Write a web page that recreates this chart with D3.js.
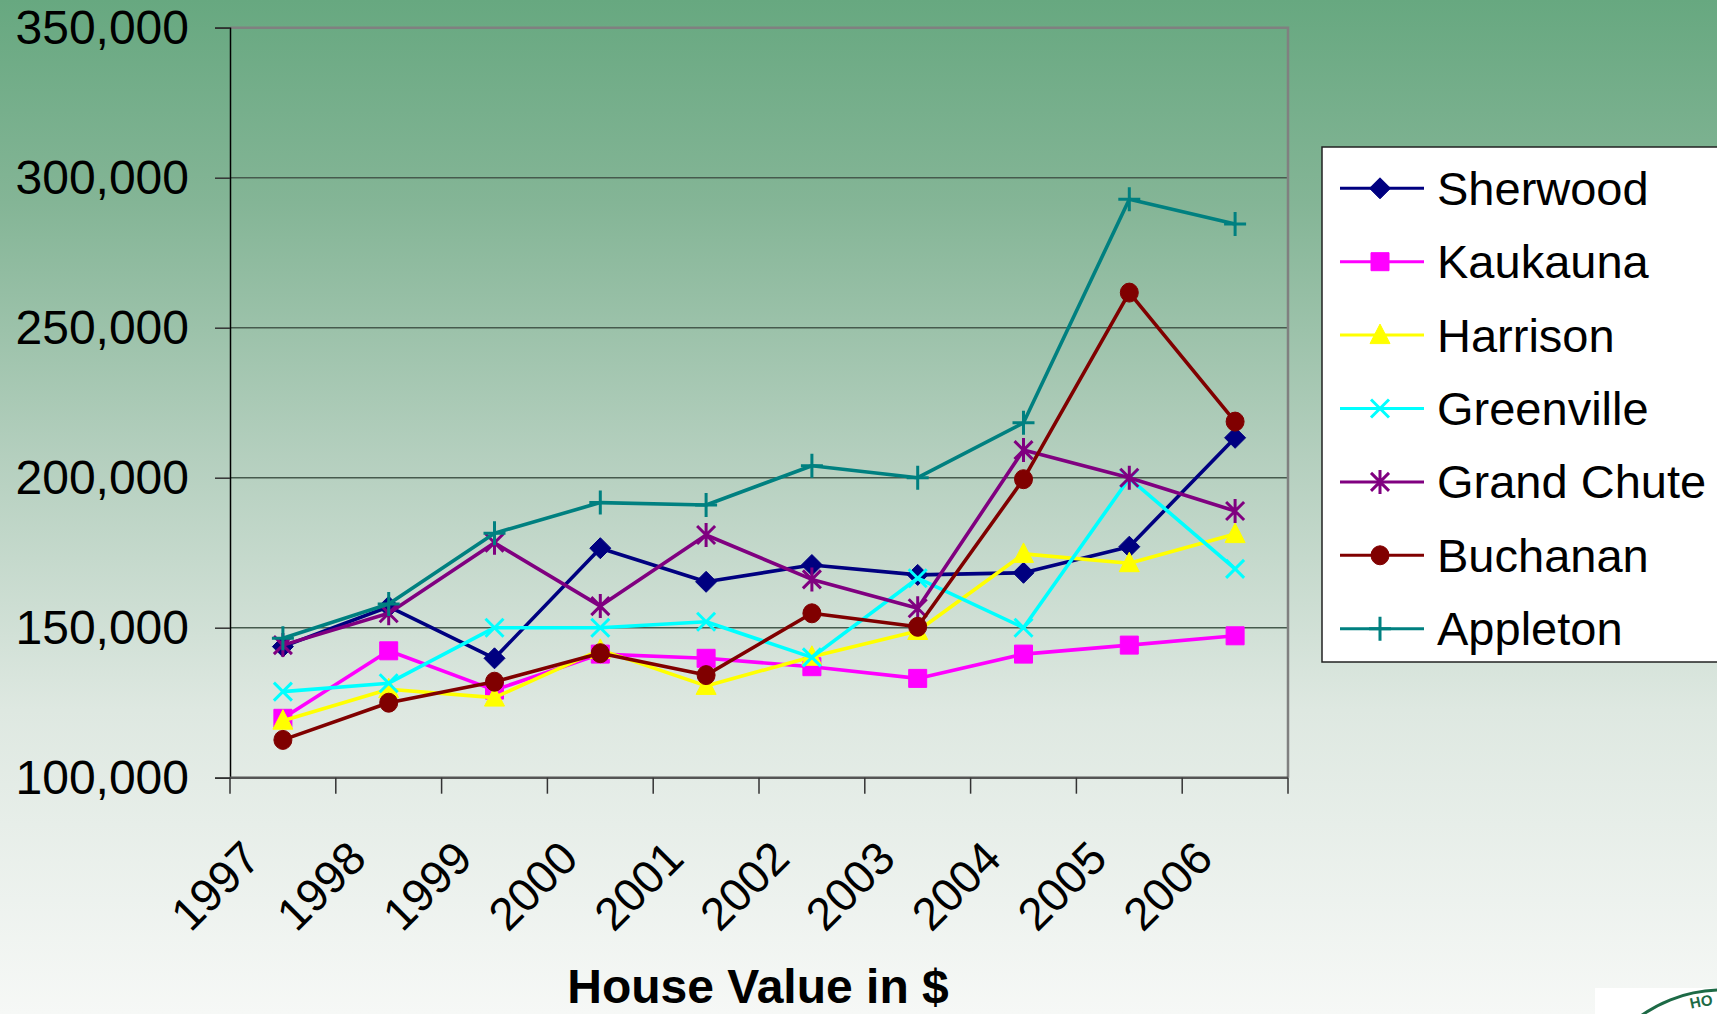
<!DOCTYPE html>
<html lang="en">
<head>
<meta charset="UTF-8">
<title>House Value in $</title>
<style>
  html, body { margin: 0; padding: 0; }
  body { width: 1717px; height: 1014px; overflow: hidden; font-family: "Liberation Sans", Arial, sans-serif; }
  svg text { font-family: "Liberation Sans", Arial, sans-serif; fill: #000; }
</style>
</head>
<body>
<svg id="chart" width="1717" height="1014"></svg>
<script src="https://d3js.org/d3.v7.min.js"></script>
<script>
// data
const years = ["1997", "1998", "1999", "2000", "2001", "2002", "2003", "2004", "2005", "2006"];
const seriesNames = ["Sherwood", "Kaukauna", "Harrison", "Greenville", "Grand Chute", "Buchanan", "Appleton"];
const sherwood   = [143700, 157000, 139800, 176500, 165300, 170900, 167600, 168300, 177000, 213300];
const kaukauna   = [119800, 142300, 129200, 141200, 139800, 137000, 133100, 141200, 144200, 147300];
const harrison   = [119000, 129500, 126700, 142600, 130600, 140300, 148900, 174600, 171500, 181200];
const greenville = [128700, 131500, 150000, 150000, 152000, 140100, 166500, 150000, 199800, 169600];
const grandChute = [144200, 154800, 178300, 157200, 180900, 166100, 156500, 209200, 200000, 188900];
const buchanan   = [112600, 125000, 132000, 141500, 134200, 154800, 150300, 199500, 261700, 218700];
const appleton   = [146500, 157900, 181500, 191700, 190900, 204000, 200000, 218300, 292800, 284600];
const yTicks = [100000, 150000, 200000, 250000, 300000, 350000];
const xTitle = "House Value in $";

const colors  = ["#000080", "#ff00ff", "#ffff00", "#00ffff", "#800080", "#800000", "#008080"];
const markers = ["diamond", "square", "triangle", "x", "asterisk", "circle", "plus"];
const values  = [sherwood, kaukauna, harrison, greenville, grandChute, buchanan, appleton];

const series = seriesNames.map((name, i) => ({
  name, color: colors[i], marker: markers[i], values: values[i]
}));

const W = 1717, H = 1014;
const plot = { left: 230, right: 1288, top: 27.7, bottom: 777.7 };

const svg = d3.select("#chart");

// background gradient
const defs = svg.append("defs");
const grad = defs.append("linearGradient")
    .attr("id", "bg").attr("x1", 0).attr("y1", 0).attr("x2", 0).attr("y2", 1);
grad.append("stop").attr("offset", "0").attr("stop-color", "#67a880");
grad.append("stop").attr("offset", "0.2").attr("stop-color", "#84b596");
grad.append("stop").attr("offset", "0.45").attr("stop-color", "#b4cfbe");
grad.append("stop").attr("offset", "0.7").attr("stop-color", "#dee8e1");
grad.append("stop").attr("offset", "1").attr("stop-color", "#f6f8f6");
svg.append("rect").attr("width", W).attr("height", H).attr("fill", "url(#bg)");

const x = d3.scaleBand().domain(years).range([plot.left, plot.right]);
const y = d3.scaleLinear().domain([100000, 350000]).range([plot.bottom, plot.top]);
const cx = d => x(d) + x.bandwidth() / 2;

// grid lines
svg.append("g")
  .selectAll("line")
  .data(yTicks.slice(1, -1))
  .join("line")
    .attr("x1", plot.left).attr("x2", plot.right)
    .attr("y1", d => y(d)).attr("y2", d => y(d))
    .attr("stroke", "#465a4d").attr("stroke-width", 1.6);

// plot border (top and right grey)
svg.append("path")
    .attr("d", `M${plot.left},${plot.top}H${plot.right}V${plot.bottom}`)
    .attr("fill", "none").attr("stroke", "#808080").attr("stroke-width", 2.5);

// y axis
const yAxis = svg.append("g")
    .attr("transform", `translate(${plot.left},0)`)
    .call(d3.axisLeft(y).tickValues(yTicks).tickFormat(d3.format(",")).tickSize(15).tickPadding(26));
yAxis.select(".domain").attr("stroke", "#000").attr("stroke-width", 1.5);
yAxis.selectAll(".tick line").attr("stroke", "#333").attr("stroke-width", 1.5);
yAxis.selectAll(".tick text")
    .attr("font-size", 48).attr("font-family", "Liberation Sans, Arial, sans-serif").attr("fill", "#000");

// x axis line and ticks at category boundaries
const xb = svg.append("g");
xb.append("line")
    .attr("x1", plot.left).attr("x2", plot.right)
    .attr("y1", plot.bottom).attr("y2", plot.bottom)
    .attr("stroke", "#555").attr("stroke-width", 2.5);
xb.selectAll("line.tk")
  .data(years.map(d => x(d)).concat([x.range()[1]]))
  .join("line")
    .attr("class", "tk")
    .attr("x1", d => d).attr("x2", d => d)
    .attr("y1", plot.bottom).attr("y2", plot.bottom + 16)
    .attr("stroke", "#333").attr("stroke-width", 1.5);

svg.append("g")
  .selectAll("text")
  .data(years)
  .join("text")
    .attr("transform", d => `translate(${cx(d) - 20},${861}) rotate(-45)`)
    .attr("text-anchor", "end")
    .attr("font-size", 46)
    .text(d => d);

// x title
svg.append("text")
    .attr("x", 758).attr("y", 1003)
    .attr("text-anchor", "middle")
    .attr("font-size", 48).attr("font-weight", "bold")
    .text(xTitle);

// marker shapes
function markerPath(type) {
  switch (type) {
    case "diamond":  return "M0,-10.5L10.5,0L0,10.5L-10.5,0Z";
    case "square":   return "M-9,-9H9V9H-9Z";
    case "triangle": return "M0,-11L10,8.5L-10,8.5Z";
    case "circle":   return "M-9,0A9,9.5 0 1,0 9,0A9,9.5 0 1,0 -9,0Z";
    case "x":        return "M-9,-9L9,9M-9,9L9,-9";
    case "asterisk": return "M-9,-9L9,9M-9,9L9,-9M0,-12V12";
    case "plus":     return "M-11,0H11M0,-12V12";
  }
}
const filled = t => ["diamond", "square", "triangle", "circle"].includes(t);

function drawMarker(g, type, color) {
  g.append("path")
      .attr("d", markerPath(type))
      .attr("fill", filled(type) ? color : "none")
      .attr("stroke", color)
      .attr("stroke-width", filled(type) ? 1 : 3);
}

const line = d3.line().x((d, i) => cx(years[i])).y(d => y(d));

const sg = svg.append("g")
  .selectAll("g")
  .data(series)
  .join("g");

sg.append("path")
    .attr("d", d => line(d.values))
    .attr("fill", "none")
    .attr("stroke", d => d.color)
    .attr("stroke-width", 3.6)
    .attr("stroke-linejoin", "round");

sg.each(function(s) {
  const g = d3.select(this);
  s.values.forEach((v, i) => {
    const m = g.append("g").attr("transform", `translate(${cx(years[i])},${y(v)})`);
    drawMarker(m, s.marker, s.color);
  });
});

// legend
const legend = svg.append("g");
legend.append("rect")
    .attr("x", 1322).attr("y", 147)
    .attr("width", 420).attr("height", 515)
    .attr("fill", "#fff").attr("stroke", "#222").attr("stroke-width", 1.5);

const rowY = i => 188.3 + i * 73.4;
const items = legend.selectAll("g.item")
  .data(series)
  .join("g")
    .attr("class", "item")
    .attr("transform", (d, i) => `translate(0,${rowY(i)})`);
items.append("line")
    .attr("x1", 1340).attr("x2", 1424)
    .attr("stroke", d => d.color).attr("stroke-width", 3);
items.each(function(s) {
  const m = d3.select(this).append("g").attr("transform", "translate(1380,0)");
  drawMarker(m, s.marker, s.color);
});
items.append("text")
    .attr("x", 1437).attr("dy", "0.35em")
    .attr("font-size", 47)
    .text(d => d.name);

// partial logo in bottom-right corner
const logo = svg.append("g");
logo.append("rect").attr("x", 1595).attr("y", 988).attr("width", 130).attr("height", 30).attr("fill", "#fff");
logo.append("circle").attr("cx", 1722).attr("cy", 1130).attr("r", 140)
    .attr("fill", "none").attr("stroke", "#1d6a46").attr("stroke-width", 3);
logo.append("circle").attr("cx", 1722).attr("cy", 1130).attr("r", 112)
    .attr("fill", "none").attr("stroke", "#1d6a46").attr("stroke-width", 2);
defs.append("path").attr("id", "logoArc")
    .attr("d", "M1597,1130A125,125 0 0,1 1847,1130");
logo.append("text")
    .attr("font-size", 15).attr("font-weight", "bold")
    .style("fill", "#1d6a46")
  .append("textPath")
    .attr("href", "#logoArc").attr("startOffset", "42%")
    .text("HO");
</script>
</body>
</html>
